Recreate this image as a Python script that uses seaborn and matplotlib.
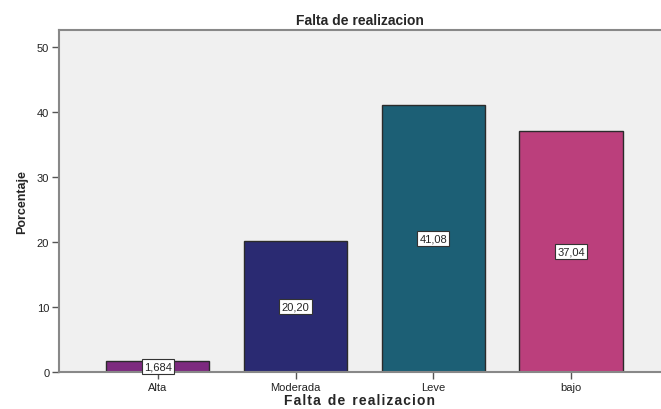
import pandas as pd
import numpy as np
import matplotlib
matplotlib.use("Agg")
import matplotlib.pyplot as plt
import seaborn as sns

categorias = ["Alta", "Moderada", "Leve", "bajo"]
porcentaje = [1.684, 20.20, 41.08, 37.04]
etiquetas = ["1,684", "20,20", "41,08", "37,04"]
colores = ["#7d2a7f", "#2a2a72", "#1c5f75", "#bb3f7c"]

df = pd.DataFrame({"categoria": categorias, "porcentaje": porcentaje})

sns.set_style("white")
plt.rcParams['font.family'] = ['Liberation Sans', 'DejaVu Sans']

fig = plt.figure(figsize=(6.61, 4.10), dpi=100)
ax = fig.add_axes([59/661, 1 - 373/410, 1 - 59/661, (373 - 31)/410])
ax.set_facecolor("#f0f0f0")

sns.barplot(data=df, x="categoria", y="porcentaje", hue="categoria",
            palette=colores, saturation=1, width=0.75, edgecolor="#2b2b2b",
            linewidth=1, legend=False, ax=ax)

for i, (v, t) in enumerate(zip(porcentaje, etiquetas)):
    ax.text(i, v / 2, t, ha="center", va="center", fontsize=8,
            bbox=dict(boxstyle="square,pad=0.2", fc="white", ec="#333333", lw=0.8))

ax.set_xlim(-0.717, 3.652)
ax.set_ylim(0, 52.6)
ax.set_yticks([0, 10, 20, 30, 40, 50])
ax.tick_params(axis="both", direction="out", length=5, width=1, color="#555555",
               labelsize=8, labelcolor="#222222", left=True, bottom=True, pad=2)

for s in ["left", "bottom", "top"]:
    ax.spines[s].set_color("#888888")
    ax.spines[s].set_linewidth(1.5)
ax.spines["right"].set_visible(False)

ax.set_title("Falta de realizacion", fontsize=10, fontweight="bold", pad=4)
ax.set_xlabel("F a l t a   d e   r e a l i z a c i o n".replace("   ", "\u2002").replace(" ", "\u200a"),
              fontsize=10, fontweight="bold", labelpad=1)
ax.set_ylabel("Porcentaje", fontsize=9, fontweight="bold", labelpad=6)

fig.savefig("out.png", dpi=100)
